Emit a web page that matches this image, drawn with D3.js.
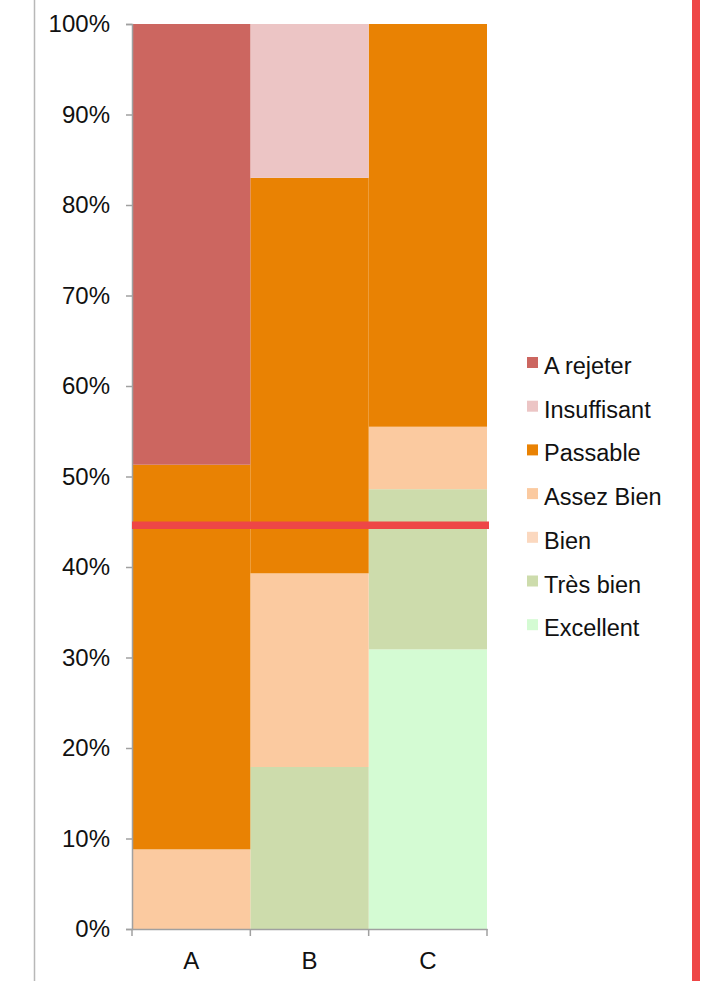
<!DOCTYPE html>
<html>
<head>
<meta charset="utf-8">
<script src="https://cdn.jsdelivr.net/npm/d3@7"></script>
<style>
  body { margin: 0; background: #fff; }
  svg { display: block; font-family: "Liberation Sans", Arial, sans-serif; }
</style>
</head>
<body>
<div id="chart"></div>
<script>
// categories and grade series (bottom to top of each stack)
const categories = ["A", "B", "C"];
const grades = ["Excellent", "Très bien", "Bien", "Assez Bien", "Passable", "Insuffisant", "A rejeter"];
const legendOrder = ["A rejeter", "Insuffisant", "Passable", "Assez Bien", "Bien", "Très bien", "Excellent"];
const gradeColors = ["#d4fbd3", "#cddcac", "#fbd8bf", "#fbcaa0", "#e98203", "#ecc5c5", "#cc6660"];

// percentage values per grade, one entry per category (A, B, C)
const excellent  = [0, 0, 30.9];
const tresBien   = [0, 17.9, 17.7];
const bien       = [0, 0, 0];
const assezBien  = [8.8, 21.4, 6.9];
const passable   = [42.5, 43.7, 44.5];
const insuffisant = [0, 17.0, 0];
const aRejeter   = [48.7, 0, 0];

const yTicks = [0, 10, 20, 30, 40, 50, 60, 70, 80, 90, 100];
const thresholdValue = 44.6;

// build table for d3.stack
const series = [excellent, tresBien, bien, assezBien, passable, insuffisant, aRejeter];
const table = categories.map((c, i) => {
    const row = { cat: c };
    grades.forEach((g, j) => { row[g] = series[j][i]; });
    return row;
});

const width = 710, height = 981;
const svg = d3.select("#chart").append("svg")
    .attr("width", width)
    .attr("height", height);

const plot = { left: 132, right: 487, top: 24, bottom: 929 };

const x = d3.scaleBand().domain(categories).range([plot.left, plot.right]).padding(0);
const y = d3.scaleLinear().domain([0, 100]).range([plot.bottom, plot.top]);
const color = d3.scaleOrdinal().domain(grades).range(gradeColors);

// page border line on the left
svg.append("line")
    .attr("x1", 34.5).attr("x2", 34.5)
    .attr("y1", 0).attr("y2", height)
    .attr("stroke", "#b8b8b8")
    .attr("stroke-width", 1.5);

// stacked bars
const stacked = d3.stack().keys(grades)(table);
svg.append("g")
    .selectAll("g")
    .data(stacked)
    .join("g")
    .attr("fill", d => color(d.key))
    .selectAll("rect")
    .data(d => d)
    .join("rect")
    .attr("x", d => x(d.data.cat))
    .attr("y", d => y(d[1]))
    .attr("width", x.bandwidth())
    .attr("height", d => y(d[0]) - y(d[1]));

// y axis
const yAxis = svg.append("g")
    .attr("transform", `translate(${plot.left},0)`)
    .call(d3.axisLeft(y).tickValues(yTicks).tickSize(6).tickPadding(16).tickFormat(d => d + "%"));
yAxis.selectAll("path, line").attr("stroke", "#a0a0a0").attr("stroke-width", 1.5);
yAxis.selectAll("text")
    .attr("font-size", "24px")
    .attr("font-family", "Liberation Sans, Arial, sans-serif")
    .attr("fill", "#111");

// x axis with ticks at category boundaries
const xAxis = svg.append("g")
    .attr("transform", `translate(0,${plot.bottom})`)
    .call(d3.axisBottom(x).tickSize(0).tickPadding(23));
xAxis.select(".domain").attr("stroke", "#a0a0a0").attr("stroke-width", 1.5);
xAxis.selectAll("text")
    .attr("font-size", "24px")
    .attr("font-family", "Liberation Sans, Arial, sans-serif")
    .attr("fill", "#111");
const edges = categories.map(c => x(c)).concat([x(categories[categories.length - 1]) + x.bandwidth()]);
xAxis.selectAll(".edge")
    .data(edges)
    .join("line")
    .attr("class", "edge")
    .attr("x1", d => d).attr("x2", d => d)
    .attr("y1", 0).attr("y2", 7)
    .attr("stroke", "#a0a0a0")
    .attr("stroke-width", 1.5);

// red threshold line
svg.append("line")
    .attr("x1", plot.left).attr("x2", plot.right + 2)
    .attr("y1", y(thresholdValue)).attr("y2", y(thresholdValue))
    .attr("stroke", "#ee4646")
    .attr("stroke-width", 7.5);

// red vertical line on the right
svg.append("line")
    .attr("x1", 696).attr("x2", 696)
    .attr("y1", 0).attr("y2", height)
    .attr("stroke", "#ee4646")
    .attr("stroke-width", 8);

// legend
const legend = svg.append("g").attr("transform", "translate(527,357)");
const items = legend.selectAll("g")
    .data(legendOrder)
    .join("g")
    .attr("transform", (d, i) => `translate(0,${i * 43.7})`);
items.append("rect")
    .attr("width", 11).attr("height", 11)
    .attr("fill", d => color(d));
items.append("text")
    .attr("x", 17)
    .attr("y", 17)
    .attr("font-size", "23.5px")
    .attr("fill", "#111")
    .text(d => d);
</script>
</body>
</html>
